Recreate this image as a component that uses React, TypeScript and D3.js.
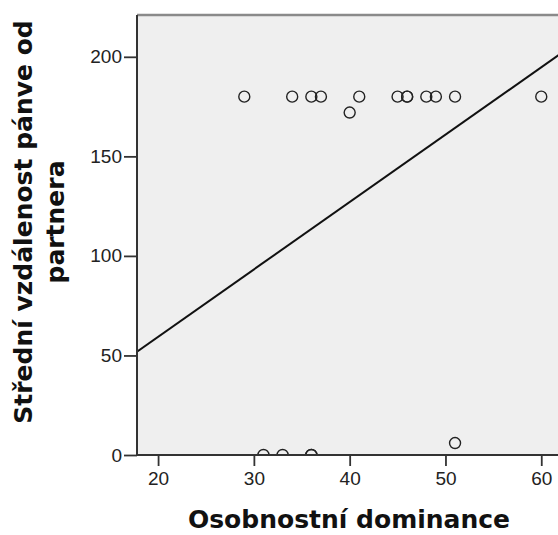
import React, { useEffect, useRef } from 'react'
import * as d3 from 'd3'

// data
const dominance = [29, 34, 36, 37, 41, 45, 46, 46, 48, 49, 51, 60, 40, 31, 33, 36, 36, 51]
const distance = [180, 180, 180, 180, 180, 180, 180, 180, 180, 180, 180, 180, 172, 0, 0, 0, 0, 6]

// fit line (intercept, slope)
const fitIntercept = -8.3
const fitSlope = 3.384

const xTicks = [20, 30, 40, 50, 60]
const yTicks = [0, 50, 100, 150, 200]

const xTitle = 'Osobnostní dominance'
const yTitleLines = ['Střední vzdálenost pánve od', 'partnera']

const W = 558
const H = 535

export default function App() {
  const ref = useRef<SVGSVGElement>(null)

  useEffect(() => {
    const svg = d3.select(ref.current)
    svg.selectAll('*').remove()

    const left = 137, top = 15, bottom = 455, right = 570

    const x = d3.scaleLinear().domain([17.8, 63]).range([left, right])
    const y = d3.scaleLinear().domain([0, 221]).range([bottom, top])

    svg.append('clipPath').attr('id', 'plotClip')
      .append('rect')
      .attr('x', left).attr('y', top)
      .attr('width', right - left).attr('height', bottom - top)

    // plot background
    svg.append('rect')
      .attr('x', left).attr('y', top)
      .attr('width', right - left).attr('height', bottom - top)
      .attr('fill', '#efefef')

    // top frame line
    svg.append('line')
      .attr('x1', left).attr('x2', right)
      .attr('y1', top).attr('y2', top)
      .attr('stroke', '#8a8a8a').attr('stroke-width', 2.5)

    const plot = svg.append('g').attr('clip-path', 'url(#plotClip)')

    // fit line
    const xd = x.domain()
    plot.append('path')
      .datum(xd.map(v => ({ v, f: fitIntercept + fitSlope * v })))
      .attr('d', d3.line<{ v: number, f: number }>()
        .x(d => x(d.v))
        .y(d => y(d.f)))
      .attr('fill', 'none')
      .attr('stroke', '#111')
      .attr('stroke-width', 2)

    // points
    plot.selectAll('circle')
      .data(dominance.map((d, i) => ({ d, v: distance[i] })))
      .enter().append('circle')
      .attr('cx', p => x(p.d))
      .attr('cy', p => y(p.v))
      .attr('r', 5.5)
      .attr('fill', 'none')
      .attr('stroke', '#222')
      .attr('stroke-width', 1.4)

    // axes
    const xAxis = svg.append('g')
      .attr('transform', `translate(0,${bottom})`)
      .call(d3.axisBottom(x).tickValues(xTicks).tickSize(11).tickPadding(6))
    const yAxis = svg.append('g')
      .attr('transform', `translate(${left},0)`)
      .call(d3.axisLeft(y).tickValues(yTicks).tickSize(13).tickPadding(2))

    for (const ax of [xAxis, yAxis]) {
      ax.select('.domain').remove()
      ax.selectAll('line').attr('stroke', '#333').attr('stroke-width', 1.8)
      ax.selectAll('text')
        .attr('fill', '#222')
        .style('font-family', 'Arial, "Liberation Sans", sans-serif')
        .style('font-size', '19px')
    }

    // axis lines
    svg.append('line')
      .attr('x1', left).attr('x2', left)
      .attr('y1', top).attr('y2', bottom)
      .attr('stroke', '#333').attr('stroke-width', 2)
    svg.append('line')
      .attr('x1', left - 1).attr('x2', right)
      .attr('y1', bottom).attr('y2', bottom)
      .attr('stroke', '#333').attr('stroke-width', 2)

    // titles
    svg.append('text')
      .attr('x', 349).attr('y', 528)
      .attr('text-anchor', 'middle')
      .style('font-family', '"DejaVu Sans", sans-serif')
      .style('font-weight', 'bold')
      .style('font-size', '25px')
      .attr('fill', '#111')
      .text(xTitle)

    const yt = svg.append('text')
      .attr('transform', 'translate(0,222) rotate(-90)')
      .attr('text-anchor', 'middle')
      .style('font-family', '"DejaVu Sans", sans-serif')
      .style('font-weight', 'bold')
      .style('font-size', '25px')
      .attr('fill', '#111')
    yTitleLines.forEach((t, i) => {
      yt.append('tspan').attr('x', 0).attr('y', 32 + i * 32).text(t)
    })
  }, [])

  return (
    <svg ref={ref} width={W} height={H}
      style={{ position: 'absolute', left: 0, top: 0, background: '#fff' }} />
  )
}
